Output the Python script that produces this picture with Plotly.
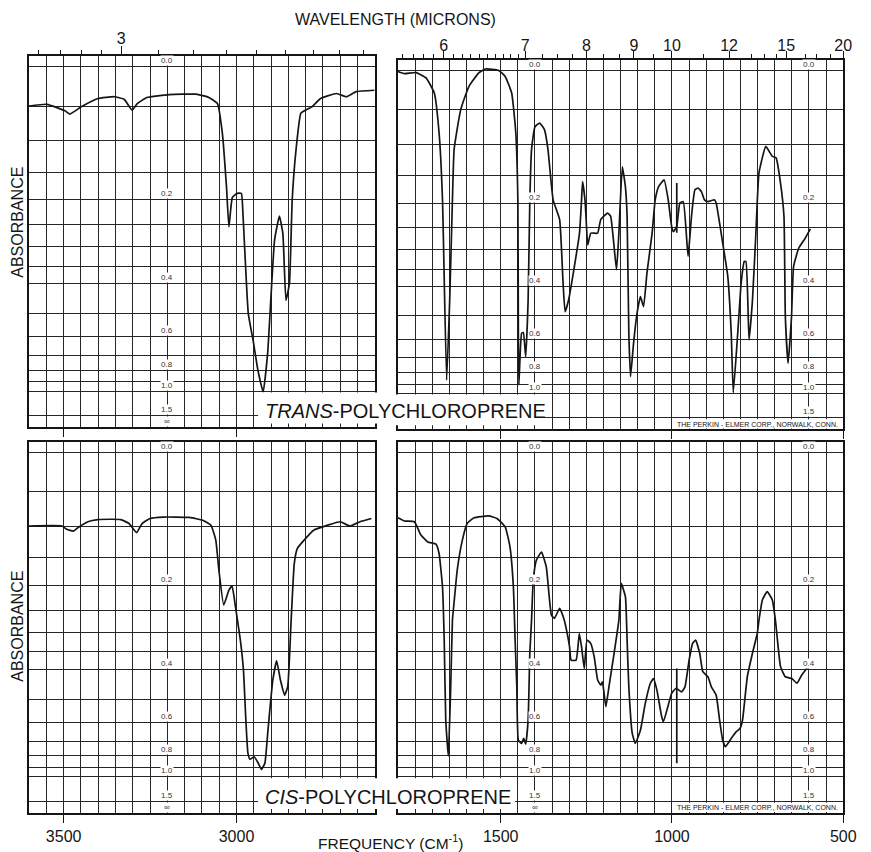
import plotly.graph_objects as go

# ---------------- spectra (wavenumber, cm-1 / transmittance, %) ----------------
trans_ch_nu = [3600, 3548, 3496, 3482, 3449, 3401, 3354, 3325, 3302, 3287, 3259, 3194, 3117, 3080,
               3055, 3041, 3029, 3022, 3012, 2998, 2986, 2981, 2966, 2952, 2938, 2923, 2910, 2890,
               2876, 2866, 2857, 2847, 2839, 2828, 2814, 2800, 2782, 2757, 2711, 2682, 2654, 2601]
trans_ch_T = [89.1, 89.6, 87.8, 86.9, 88.9, 91.2, 91.7, 91.0, 88.0, 89.8, 91.5, 92.3, 92.4, 91.5,
              89.8, 81.6, 66.7, 55.6, 63.8, 64.9, 64.9, 58.4, 31.6, 24.1, 15.8, 9.8, 20.5, 51.9,
              58.6, 53.8, 35.2, 39.9, 63.0, 76.9, 87.1, 88.0, 88.9, 91.2, 92.6, 91.7, 93.1, 93.5]

trans_fp_nu = [1800, 1781, 1747, 1718, 1694, 1680, 1670, 1658, 1649, 1641, 1636, 1617, 1593, 1564,
               1545, 1506, 1487, 1468, 1456, 1450, 1448.5, 1447, 1439, 1434, 1427, 1420, 1415, 1410,
               1400, 1386, 1372, 1362, 1347, 1328, 1318, 1312, 1302, 1285, 1270, 1264, 1261, 1254,
               1251, 1246, 1237, 1217, 1208, 1188, 1179, 1162, 1155, 1145, 1136, 1131, 1126, 1121,
               1112, 1102, 1092, 1083, 1073, 1058, 1049, 1039, 1023, 1011, 1001, 996, 986, 977,
               967, 953, 943, 933, 924, 914, 905, 895, 876, 871, 852, 837, 827, 821, 808, 798,
               789, 784, 775, 765, 755, 746, 726, 707, 696, 683, 673, 669, 661, 651, 645, 630,
               611, 596]
trans_fp_T = [99.8, 99.2, 99.5, 98.0, 93.8, 82.7, 64.0, 13.7, 36.0, 64.0, 78.1, 89.1, 95.6, 99.4,
              100.5, 100.1, 98.4, 93.8, 82.7, 64.0, 26.9, 12.4, 26.8, 27.0, 20.2, 36.0, 64.0, 78.0,
              84.4, 85.4, 83.5, 78.0, 64.0, 58.5, 40.8, 32.8, 36.0, 45.4, 54.7, 64.0, 69.1, 64.0,
              59.4, 51.4, 54.7, 54.7, 58.5, 60.3, 59.4, 44.5, 54.7, 73.2, 67.7, 59.4, 26.9, 14.7,
              24.1, 32.4, 37.0, 34.2, 43.6, 54.7, 64.0, 67.7, 69.6, 64.0, 56.6, 55.1, 56.6, 63.1,
              63.5, 48.2, 59.4, 66.8, 67.3, 66.3, 64.0, 63.5, 64.0, 63.1, 52.0, 42.6, 26.8, 10.2,
              26.8, 40.8, 46.8, 46.8, 24.9, 36.0, 54.7, 71.5, 78.9, 76.1, 75.7, 68.6, 59.4, 31.4,
              18.4, 31.4, 45.4, 50.5, 53.3, 55.9]

cis_ch_nu = [3600, 3505, 3491, 3472, 3458, 3430, 3401, 3335, 3311, 3289, 3273, 3250, 3212, 3136,
             3098, 3074, 3060, 3051, 3037, 3022, 3013, 3003, 2989, 2980, 2973, 2967, 2961, 2949,
             2937, 2928, 2918, 2909, 2895, 2884, 2873, 2861, 2852, 2842, 2833, 2824, 2809, 2776,
             2738, 2700, 2672, 2643, 2610]
cis_ch_T = [79.6, 79.6, 78.7, 78.2, 79.2, 80.8, 81.4, 81.4, 80.3, 77.8, 80.3, 81.7, 82.1, 82.0,
            81.2, 79.8, 75.7, 67.4, 57.7, 61.8, 63.0, 57.2, 48.0, 39.7, 25.8, 16.6, 14.9, 15.6,
            13.8, 12.1, 13.8, 23.0, 36.9, 42.2, 36.9, 32.7, 35.0, 53.5, 69.2, 73.4, 75.2, 78.5,
            79.8, 80.8, 79.6, 80.8, 81.7]

cis_fp_nu = [1800, 1781, 1752, 1733, 1713, 1689, 1680, 1670, 1665, 1660.5, 1653, 1646, 1641, 1636,
             1627, 1612, 1598, 1578, 1535, 1511, 1487, 1473, 1463, 1458, 1453, 1448.5, 1439, 1433,
             1427, 1420, 1415, 1410, 1405, 1396, 1381, 1367, 1352, 1343, 1328, 1316, 1304, 1299,
             1294.5, 1280, 1270.5, 1264, 1256, 1248, 1237, 1227, 1217, 1208, 1203, 1193, 1184,
             1169, 1155, 1148, 1136, 1131, 1126, 1116, 1107, 1092, 1078, 1063, 1054, 1044, 1030,
             1025, 1012, 1001, 988, 972, 962, 950, 940, 931, 919, 910, 895, 885, 871, 861, 852,
             844, 827, 813, 801, 794, 780, 765, 751, 746, 736, 722, 707, 698, 693, 683, 669, 650,
             635, 621, 603]
cis_fp_T = [81.9, 81.0, 80.8, 77.1, 75.2, 74.6, 72.0, 62.7, 48.0, 25.8, 15.8, 35.0, 53.5, 58.6,
            67.4, 75.7, 80.3, 81.9, 82.4, 81.7, 79.4, 73.8, 62.7, 48.0, 35.0, 20.2, 19.3, 20.7,
            19.1, 25.8, 44.4, 53.5, 64.6, 70.1, 72.4, 68.3, 54.9, 54.0, 56.8, 54.0, 48.9, 46.1,
            42.4, 42.4, 49.8, 46.1, 40.1, 48.0, 47.0, 43.3, 36.9, 35.5, 36.4, 29.5, 35.0,
            44.3, 53.5, 63.7, 60.0, 48.0, 35.0, 22.1, 19.3, 23.0, 30.4, 36.0, 37.3, 34.1, 26.7,
            25.3, 29.5, 33.2, 34.6, 33.6, 35.0, 42.4, 47.0, 48.0, 44.3, 39.2, 37.8, 35.0, 32.7, 25.8, 20.2,
            18.4, 20.7, 22.5, 23.5, 25.8, 37.8, 44.3, 49.8, 53.5, 59.1, 61.4, 59.1, 53.5, 48.9, 40.6, 37.8, 37.3,
            36.0, 38.3, 40.6]

# wavelength calibration pips near 10 microns
pip_nu = [986, 986]
trans_pip_T = [54.8, 68.7]
cis_pip_T = [40.1, 13.8]

# ---------------- chart paper scales ----------------
absorb_grid = [0, 0.05, 0.1, 0.15, 0.2, 0.25, 0.3, 0.35, 0.4, 0.5, 0.6, 0.7, 0.8, 0.9, 1.0, 1.5]
absorb_labels = ["0.0", "0.2", "0.4", "0.6", "0.8", "1.0", "1.5", "\u221e"]
absorb_label_vals = [0.0, 0.2, 0.4, 0.6, 0.8, 1.0, 1.5, None]

freq_ticks_hi = [3500, 3000]
freq_ticks_fp = [1500, 1000, 500]

wl_major_hi = [3]
wl_minor_hi = [2.8, 2.85, 2.9, 2.95, 3.1, 3.2, 3.3, 3.4, 3.5, 3.6, 3.7, 3.8]
wl_major_fp = [6, 7, 8, 9, 10, 12, 15, 20]
wl_minor_fp = [5.6, 5.7, 5.8, 5.9, 6.1, 6.2, 6.3, 6.4, 6.5, 6.6, 6.7, 6.8, 6.9, 7.25, 7.5,
               7.75, 8.33, 8.67, 9.5, 11, 13, 13.7, 14.4, 16.4, 17.3, 18.6]


def a_to_t(a):
    return 0.0 if a is None else 100.0 * 10 ** (-a)


T_GRID = [a_to_t(a) for a in absorb_grid]

W, H = 871, 852
FONT = "Liberation Sans, Arial, sans-serif"
INK = "#151515"
GRID = "#262626"


def px(x):
    return x / W


def py(y):
    return 1 - y / H


# panel frames in pixels (left, right, top, bottom)
FRAMES = {
    1: (29.5, 380.5, 56.0, 427.3),
    2: (404.0, 856.0, 60.0, 429.3),
    3: (29.5, 380.5, 441.7, 813.0),
    4: (404.0, 856.0, 441.7, 813.0),
}
X_RANGE = {1: [3600, 2600], 2: [1800, 500], 3: [3600, 2600], 4: [1800, 500]}
T_RANGE = [0, 103]

fig = go.Figure()

series = [
    (1, trans_ch_nu, trans_ch_T), (2, trans_fp_nu, trans_fp_T),
    (3, cis_ch_nu, cis_ch_T), (4, cis_fp_nu, cis_fp_T),
    (2, pip_nu, trans_pip_T), (4, pip_nu, cis_pip_T),
]
for k, nu, tr in series:
    sfx = "" if k == 1 else str(k)
    fig.add_trace(go.Scatter(
        x=nu, y=tr, mode="lines", xaxis="x" + sfx, yaxis="y" + sfx,
        line=dict(color=INK, width=1.7, shape="spline", smoothing=0.4),
        hoverinfo="skip", showlegend=False))

# empty traces so the wavelength scales are drawn
WL_AXES = [("x5", "y"), ("x6", "y"), ("x7", "y2"), ("x8", "y2"), ("x9", "y"), ("x10", "y2")]
for ax, yk in WL_AXES:
    fig.add_trace(go.Scatter(x=[], y=[], xaxis=ax, yaxis=yk, showlegend=False, hoverinfo="skip"))

layout = dict(
    width=W, height=H, margin=dict(l=0, r=0, t=0, b=0),
    paper_bgcolor="white", plot_bgcolor="white",
    font=dict(family=FONT, color=INK), showlegend=False,
)

for k, (l, r, t, b) in FRAMES.items():
    sfx = "" if k == 1 else str(k)
    ticks = freq_ticks_hi if k in (1, 3) else freq_ticks_fp
    layout["xaxis" + sfx] = dict(
        domain=[px(l), px(r)], range=X_RANGE[k], anchor="y" + sfx,
        tickvals=ticks, ticktext=[str(v) for v in ticks],
        showticklabels=k in (3, 4), ticks="outside", ticklen=8, tickwidth=1.3, tickcolor=INK,
        tickfont=dict(size=16, color=INK),
        showgrid=True, gridcolor=GRID, gridwidth=1.1,
        minor=dict(dtick=50, tick0=0, showgrid=True, gridcolor=GRID, gridwidth=1.1, ticks=""),
        showline=True, mirror=True, linecolor=INK, linewidth=1.6, zeroline=False,
        fixedrange=True)
    layout["yaxis" + sfx] = dict(
        domain=[py(b), py(t)], range=T_RANGE, anchor="x" + sfx,
        tickvals=T_GRID, showticklabels=False, ticks="",
        showgrid=True, gridcolor=GRID, gridwidth=1.1,
        showline=True, mirror=True, linecolor=INK, linewidth=1.6, zeroline=False,
        fixedrange=True)


def wl_axis(base, yk, frame, rng, vals, labels, ticklen):
    l, r, _, _ = FRAMES[frame]
    return dict(
        overlaying=base, anchor=yk, side="top", domain=[px(l), px(r)], range=rng,
        tickvals=[1e4 / v for v in vals], ticktext=labels if labels else None,
        showticklabels=bool(labels),
        ticks="outside" if ticklen else "", ticklen=max(ticklen, 1), tickwidth=1.2,
        tickcolor=INK, tickfont=dict(size=16, color=INK),
        showgrid=False, showline=False, zeroline=False, fixedrange=True)


# long unlabeled marks at the whole-micron values, short marks between them,
# and the numerals set close to the frame on their own scale
layout["xaxis5"] = wl_axis("x", "y", 1, X_RANGE[1], wl_major_hi, [], 9)
layout["xaxis6"] = wl_axis("x", "y", 1, X_RANGE[1], wl_minor_hi, [], 5)
layout["xaxis9"] = wl_axis("x", "y", 1, X_RANGE[1], wl_major_hi, [str(v) for v in wl_major_hi], 0)
layout["xaxis7"] = wl_axis("x2", "y2", 2, X_RANGE[2], wl_major_fp, [], 8)
layout["xaxis8"] = wl_axis("x2", "y2", 2, X_RANGE[2], wl_minor_fp, [], 5)
layout["xaxis10"] = wl_axis("x2", "y2", 2, X_RANGE[2], wl_major_fp, [str(v) for v in wl_major_fp], 0)
layout["xaxis9"]["ticklabelstandoff"] = 8
layout["xaxis10"]["ticklabelstandoff"] = 5

fig.update_layout(**layout)

# blank areas of the chart paper: title strips and the maker's imprint
shapes = []
for (x0, x1, y0, y1) in [
        (262, 383, 392.6, 423.5), (401, 552, 394.6, 425.3),      # upper title strip
        (262, 383, 778.2, 809.0), (401, 523, 778.2, 809.0),      # lower title strip
        (683.5, 855.0, 419.2, 428.4), (683.5, 855.0, 802.8, 812.1)]:  # imprint strips
    shapes.append(dict(type="rect", xref="paper", yref="paper",
                       x0=px(x0), x1=px(x1), y0=py(y1), y1=py(y0),
                       fillcolor="white", line=dict(width=0), layer="above"))
fig.update_layout(shapes=shapes)

ann = []
# absorbance scale printed inside the panels
label_cols = {1: [3200], 2: [1400, 600], 3: [3200], 4: [1400, 600]}
hidden = {(2, 1400, "1.5"), (2, 1400, "\u221e"), (2, 600, "\u221e"), (4, 600, "\u221e")}
for k, cols in label_cols.items():
    sfx = "" if k == 1 else str(k)
    for c in cols:
        for txt, a in zip(absorb_labels, absorb_label_vals):
            if (k, c, txt) in hidden:
                continue
            ann.append(dict(x=c, y=a_to_t(a), xref="x" + sfx, yref="y" + sfx, text=txt,
                            showarrow=False, xanchor="center", yanchor="bottom", yshift=0.5,
                            font=dict(size=8, color="#333"), bgcolor="white", borderpad=0))


def paper_text(x, y, text, size, **kw):
    d = dict(x=px(x), y=py(y), xref="paper", yref="paper", text=text, showarrow=False,
             xanchor="center", yanchor="middle", font=dict(size=size, color=INK))
    d.update(kw)
    return d


ann += [
    paper_text(401, 19, "WAVELENGTH (MICRONS)", 16),
    paper_text(396, 842, "FREQUENCY (CM<sup>-1</sup>)", 15.5),
    paper_text(17, 222, "ABSORBANCE", 16, textangle=-90),
    paper_text(17, 626, "ABSORBANCE", 16, textangle=-90),
    paper_text(411.5, 411, "<i>TRANS</i>-POLYCHLOROPRENE", 20),
    paper_text(394, 797, "<i>CIS</i>-POLYCHLOROPRENE", 20),
    paper_text(768.5, 424, "THE PERKIN - ELMER CORP., NORWALK, CONN.", 7),
    paper_text(768.5, 807.4, "THE PERKIN - ELMER CORP., NORWALK, CONN.", 7),
]
fig.update_layout(annotations=ann)

fig.write_html("out.html")
